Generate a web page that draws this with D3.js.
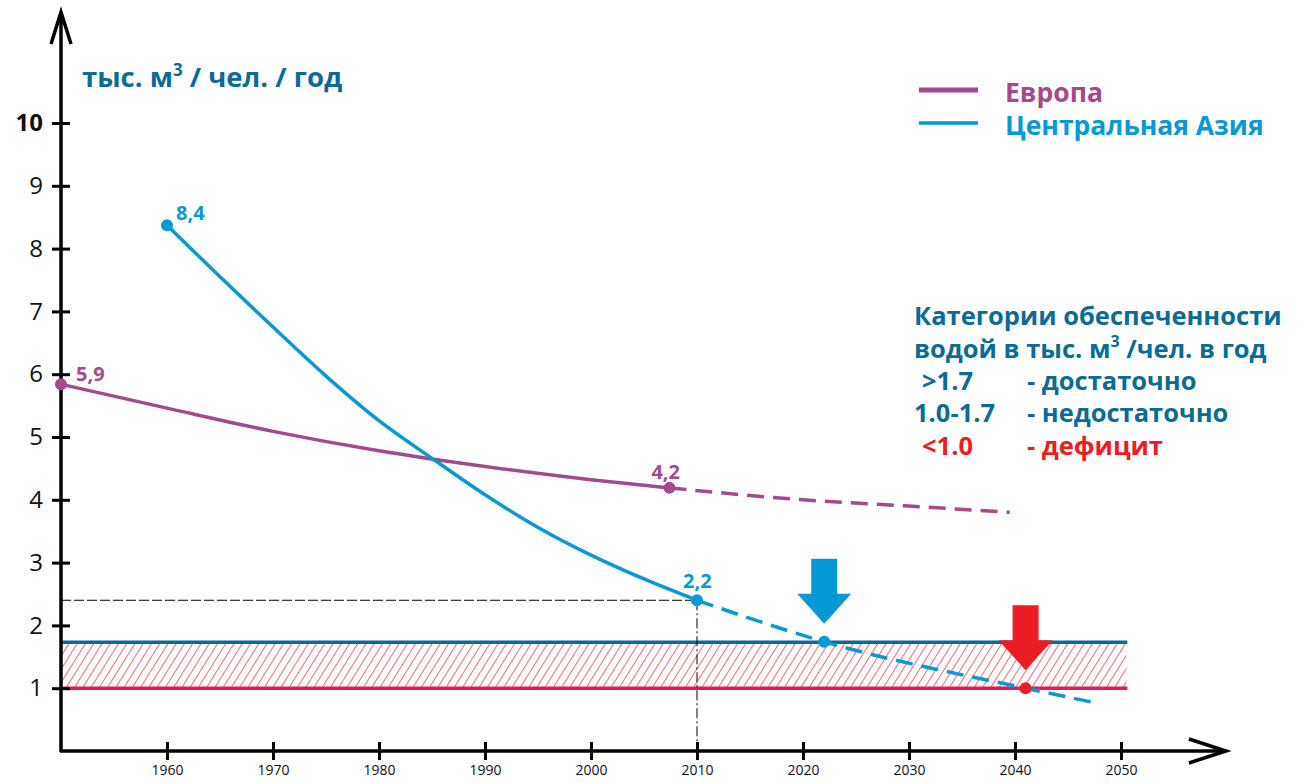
<!DOCTYPE html>
<html>
<head>
<meta charset="utf-8">
<script src="https://cdn.jsdelivr.net/npm/d3@7"></script>
<style>
	body { margin: 0; background: #fff; }
	text { font-family: "Open Sans", "Noto Sans", sans-serif; }
</style>
</head>
<body>
<div id="chart"></div>
<script>
// data
var xTicks = [1960, 1970, 1980, 1990, 2000, 2010, 2020, 2030, 2040, 2050];
var yTicks = [1, 2, 3, 4, 5, 6, 7, 8, 9, 10];

var europeYears = [1950, 1960, 1970, 1980, 1990, 2000, 2007.4];
var europeVals = [5.84, 5.46, 5.09, 4.78, 4.53, 4.32, 4.19];
var europeFcYears = [2007.4, 2020, 2030, 2039.5];
var europeFcVals = [4.19, 4.0, 3.9, 3.8];

var asiaYears = [1960, 1965, 1970, 1975, 1980, 1985, 1990, 1995, 2000, 2005, 2010];
var asiaVals = [8.37, 7.55, 6.75, 5.97, 5.26, 4.66, 4.08, 3.56, 3.12, 2.74, 2.4];
var asiaFcYears = [2010, 2022, 2041, 2047.5];
var asiaFcVals = [2.4, 1.74, 1.0, 0.77];

var pointLabels = [
	{ x: 1950, y: 5.84, text: '5,9', series: 'eu', dx: 15, dy: -3 },
	{ x: 2007.4, y: 4.19, text: '4,2', series: 'eu', dx: -18, dy: -9 },
	{ x: 1960, y: 8.37, text: '8,4', series: 'as', dx: 9, dy: -5 },
	{ x: 2010, y: 2.4, text: '2,2', series: 'as', dx: -14, dy: -12 }
];

var limitHigh = 1.73, limitLow = 1.0;
var guideX = 2010, guideY = 2.4;
var arrowPoints = [{ x: 2022, y: 1.74, color: '#0798d6' }, { x: 2041, y: 1.0, color: '#ec1c24' }];

var width = 1301, height = 783;
var purple = '#a4498b', blue = '#0798d6', dark = '#0b6a96', red = '#ec1c24', pink = '#e8185a';

var xScale = d3.scaleLinear().domain([1950, 2050]).range([61, 1121]);
var yScale = d3.scaleLinear().domain([0, 10]).range([751, 123]);

var svg = d3.select('#chart').append('svg')
	.attr('width', width)
	.attr('height', height);

var defs = svg.append('defs');
var hatch = defs.append('pattern')
	.attr('id', 'hatch')
	.attr('patternUnits', 'userSpaceOnUse')
	.attr('width', 7)
	.attr('height', 7)
	.attr('patternTransform', 'rotate(32)');
hatch.append('line')
	.attr('x1', 0).attr('y1', 0).attr('x2', 0).attr('y2', 7)
	.attr('stroke', red)
	.attr('stroke-width', 1.3);

// hatched band
svg.append('rect')
	.attr('x', xScale(1950))
	.attr('y', yScale(limitHigh))
	.attr('width', xScale(2050.5) - xScale(1950))
	.attr('height', yScale(limitLow) - yScale(limitHigh))
	.attr('fill', 'url(#hatch)');

svg.append('line')
	.attr('x1', xScale(1950)).attr('x2', xScale(2050.6))
	.attr('y1', yScale(limitHigh)).attr('y2', yScale(limitHigh))
	.attr('stroke', dark).attr('stroke-width', 3.5);
svg.append('line')
	.attr('x1', xScale(1950)).attr('x2', xScale(2050.6))
	.attr('y1', yScale(limitLow)).attr('y2', yScale(limitLow))
	.attr('stroke', pink).attr('stroke-width', 3.5);

// guide lines to 2010
svg.append('line')
	.attr('x1', xScale(1950)).attr('x2', xScale(guideX))
	.attr('y1', yScale(guideY)).attr('y2', yScale(guideY))
	.attr('stroke', '#000').attr('stroke-width', 1)
	.attr('stroke-dasharray', '10,3');
svg.append('line')
	.attr('x1', xScale(guideX)).attr('x2', xScale(guideX))
	.attr('y1', yScale(guideY)).attr('y2', yScale(0))
	.attr('stroke', '#000').attr('stroke-width', 1)
	.attr('stroke-dasharray', '10,3,2,3');

// axes
var xAxis = d3.axisBottom(xScale).tickValues(xTicks).tickSize(0).tickPadding(14).tickFormat(d3.format('d'));
var yAxis = d3.axisLeft(yScale).tickValues(yTicks).tickSize(0).tickPadding(18);

var gx = svg.append('g')
	.attr('transform', 'translate(0,' + yScale(0) + ')')
	.call(xAxis);
gx.select('.domain').remove();
gx.selectAll('text').attr('font-size', 14).attr('fill', '#111').attr('font-family', '"Open Sans", sans-serif');
gx.selectAll('.tick').append('line')
	.attr('y1', -9).attr('y2', 9)
	.attr('stroke', '#000').attr('stroke-width', 3);

var gy = svg.append('g')
	.attr('transform', 'translate(' + xScale(1950) + ',0)')
	.call(yAxis);
gy.select('.domain').remove();
gy.selectAll('text').attr('font-size', 24).attr('fill', '#111').attr('font-family', '"Open Sans", sans-serif')
	.attr('font-weight', function(d) { return d === 10 ? 'bold' : 'normal'; });
gy.selectAll('.tick').append('line')
	.attr('x1', -9).attr('x2', 9)
	.attr('stroke', '#000').attr('stroke-width', 3);

// axis lines with arrow heads
svg.append('line')
	.attr('x1', xScale(1950)).attr('x2', xScale(1950))
	.attr('y1', yScale(0) + 1).attr('y2', 12)
	.attr('stroke', '#000').attr('stroke-width', 3.5);
svg.append('path')
	.attr('d', 'M' + (xScale(1950) - 10) + ',44 L' + xScale(1950) + ',12 L' + (xScale(1950) + 10) + ',44')
	.attr('fill', 'none').attr('stroke', '#000').attr('stroke-width', 3.5);
svg.append('line')
	.attr('x1', xScale(1950) - 1).attr('x2', 1226)
	.attr('y1', yScale(0)).attr('y2', yScale(0))
	.attr('stroke', '#000').attr('stroke-width', 3.5);
svg.append('path')
	.attr('d', 'M1189,' + (yScale(0) - 12) + ' L1226,' + yScale(0) + ' L1189,' + (yScale(0) + 12))
	.attr('fill', 'none').attr('stroke', '#000').attr('stroke-width', 3.5);

// series
var line = d3.line()
	.x((d) => xScale(d[0]))
	.y((d) => yScale(d[1]))
	.curve(d3.curveMonotoneX);

function drawLine(xs, ys, color, dash) {
	svg.append('path')
		.datum(d3.zip(xs, ys))
		.attr('d', line)
		.attr('fill', 'none')
		.attr('stroke', color)
		.attr('stroke-width', 3.5)
		.attr('stroke-dasharray', dash ? '17,9' : null);
}
drawLine(europeYears, europeVals, purple, false);
drawLine(europeFcYears, europeFcVals, purple, true);
drawLine(asiaYears, asiaVals, blue, false);
drawLine(asiaFcYears, asiaFcVals, blue, true);

// arrows
arrowPoints.forEach(function(p) {
	var cx = xScale(p.x), tip = yScale(p.y) - 18;
	svg.append('path')
		.attr('d', 'M' + (cx - 13) + ',' + (tip - 65) + ' H' + (cx + 13) + ' V' + (tip - 30) +
			' H' + (cx + 27) + ' L' + cx + ',' + tip + ' L' + (cx - 27) + ',' + (tip - 30) +
			' H' + (cx - 13) + ' Z')
		.attr('fill', p.color);
});

// dots
var dots = [
	[1950, 5.84, purple], [2007.4, 4.19, purple],
	[1960, 8.37, blue], [2010, 2.4, blue], [2022, 1.74, blue],
	[2041, 1.0, red]
];
svg.selectAll('circle.dot').data(dots).enter().append('circle')
	.attr('class', 'dot')
	.attr('cx', (d) => xScale(d[0]))
	.attr('cy', (d) => yScale(d[1]))
	.attr('r', 6)
	.attr('fill', (d) => d[2]);

svg.selectAll('text.plabel').data(pointLabels).enter().append('text')
	.attr('class', 'plabel')
	.attr('x', (d) => xScale(d.x) + d.dx)
	.attr('y', (d) => yScale(d.y) + d.dy)
	.attr('font-size', 20)
	.attr('font-weight', 'bold')
	.attr('fill', (d) => d.series === 'eu' ? purple : blue)
	.text((d) => d.text);

// unit title
var title = svg.append('text')
	.attr('x', 82).attr('y', 87)
	.attr('font-size', 27.5).attr('font-weight', 'bold').attr('fill', dark);
title.append('tspan').text('тыс. м');
title.append('tspan').attr('font-size', 17).attr('dy', -11).text('3');
title.append('tspan').attr('dy', 11).text(' / чел. / год');

// legend
var legend = [
	{ name: 'Европа', color: purple, y: 92 },
	{ name: 'Центральная Азия', color: blue, y: 125 }
];
legend.forEach(function(l) {
	svg.append('line')
		.attr('x1', 919).attr('x2', 978)
		.attr('y1', l.y - 2).attr('y2', l.y - 2)
		.attr('stroke', l.color).attr('stroke-width', l.name === 'Европа' ? 5 : 3.5);
	svg.append('text')
		.attr('x', 1005).attr('y', l.y + 10)
		.attr('font-size', 26.5).attr('font-weight', 'bold')
		.attr('fill', l.color)
		.text(l.name);
});

// categories note, one text per line
var note = svg.append('g').attr('font-size', 25.5).attr('font-weight', 'bold');
note.append('text').attr('x', 914).attr('y', 325).attr('fill', dark)
	.text('Категории обеспеченности');
var n2 = note.append('text').attr('x', 914).attr('y', 358).attr('fill', dark);
n2.append('tspan').text('водой в тыс. м');
n2.append('tspan').attr('font-size', 16).attr('dy', -11).text('3');
n2.append('tspan').attr('dy', 11).text(' /чел. в год');
var rows = [
	{ a: '>1.7', b: '- достаточно', y: 390, color: dark, x: 922 },
	{ a: '1.0-1.7', b: '- недостаточно', y: 422, color: dark, x: 914 },
	{ a: '<1.0', b: '- дефицит', y: 455, color: red, x: 922 }
];
rows.forEach(function(r) {
	var t = note.append('text').attr('x', r.x).attr('y', r.y).attr('fill', r.color);
	t.append('tspan').text(r.a);
	t.append('tspan').attr('x', 1027).text(r.b);
});
</script>
</body>
</html>
